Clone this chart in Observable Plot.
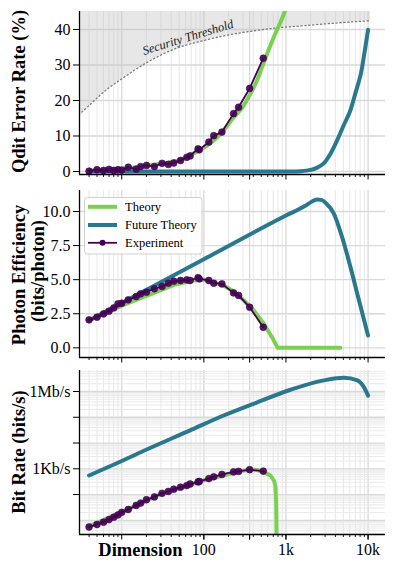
<!DOCTYPE html>
<html><head><meta charset="utf-8">
<script src="https://cdn.jsdelivr.net/npm/d3@7"></script>
<script src="https://cdn.jsdelivr.net/npm/@observablehq/plot@0.6"></script>
<style>
html,body{margin:0;padding:0;background:#fff;}
#wrap{position:relative;width:397px;height:571px;overflow:hidden;font-family:"Liberation Serif",serif;}
#wrap svg, #wrap svg text, #wrap svg tspan{font-family:"Liberation Serif",serif !important;}
</style></head><body><div id="wrap"></div>
<script>
// ---------------- DATA ----------------
// experiment dimensions (shared by the three panels)
const expDims = [4,5,6,7,8,9,10,12,15,17,20,25,31,37,43,52,62,68,85,88,115,132,166,230,265,361,529];
const expQber = [0.1,0.5,0.3,0.6,0.3,0.5,0.4,1.2,0.65,1.4,1.7,1.4,2.3,2.0,2.4,3.1,4.0,4.4,6.4,6.1,8.3,10.1,11.1,16.3,18.1,23.4,31.9];
const expPE   = [2.05,2.25,2.49,2.69,2.93,3.23,3.27,3.52,3.76,3.96,4.08,4.33,4.5,4.74,4.89,4.94,4.99,4.94,5.14,5.06,4.94,4.74,4.69,4.03,3.84,2.98,1.51];
const expBR   = [5.5,6.9,8.5,10.7,13.2,16.2,20.4,26.3,38,46.8,63,81,112,132,162,193,224,257,309,324,417,490,603,759,794,923,813];

// Theory (current)
const thQberDims = [4,6,10,15,20,30,52,85,100,166,230,300,361,450,529,710,966,1100];
const thQber     = [0.3,0.45,0.8,1.2,1.6,2.2,3.3,5.8,6.7,11,15.2,18.3,21.5,26,30.3,37.8,45,49];
const thPEDims = [4,10,23,45,70,100,174,231,307,405,537,677,793,4600];
const thPE     = [2.0,3.1,3.95,4.65,4.92,5.0,4.57,4.13,3.47,2.74,1.76,0.78,0,0];
const thBRDims = [4,10,30,68,100,174,250,361,450,529,650,720,745,760,770,780];
const thBR     = [5.8,20.9,105,240,355,550,760,930,890,740,550,330,195,50,1,0.001];

// Future theory
const fuQberDims = [4,100,1000,1500,2000,2400,2880,3400,4180,5000,6080,7000,8160,9000,10000];
const fuQber     = [0,0,0,0.1,0.45,1.1,2.3,4.6,8.7,12.8,17.2,22,27.5,33.2,39.9];
const fuPEDims = [4,100,1000,1700,2100,2400,2700,3030,3830,4840,6120,7730,10000];
const fuPE     = [2.0,6.5,9.7,10.4,10.75,10.88,10.85,10.65,9.85,8.1,5.9,3.5,0.9];
const fuBRDims = [4,10,14,68,174,446,1140,2900,5100,7400,8900,10000];
const fuBR     = [550,2000,3300,31000,117000,380000,1170000,2700000,3400000,2700000,1480000,690000];

// Security threshold (QBER %)
const thrDims = [3,4,5,7,10,18,45,100,183,400,744,1500,3030,6000,10700];
const thrVals = [16.0,18.6,20.7,23.6,26.1,30.0,34.6,36.9,38.3,39.6,40.4,41.0,41.6,42.1,42.5];
const thrLabel = [{d: 64, v: 37.8, text: "Security Threshold"}];

// ticks & labels
const xTickValues = [100, 361, 1000, 10000];
const xTickLabels = ["100", "361", "1k", "10k"];
const xMajor = [10, 100, 361, 1000, 10000];
const qTicks = [0, 10, 20, 30, 40];
const qLabels = ["0", "10", "20", "30", "40"];
const peTicks = [0, 2.5, 5, 7.5, 10];
const peLabels = ["0.0", "2.5", "5.0", "7.5", "10.0"];
const brTicks = [1e2, 1e3, 1e4, 1e5, 1e6];
const brLabels = ["", "1Kb/s", "", "", "1Mb/s"];
const seriesNames = ["Theory", "Future Theory", "Experiment"];
const colors = {theory: "#7ad151", future: "#2a788e", exp: "#440154"};
const titles = ["Qdit Error Rate (%)", "Photon Efficiency", "(bits/photon)", "Bit Rate (bits/s)", "Dimension"];

// ---------------- CHART ----------------
const W = 397;
const FONT = "Liberation Serif, serif";
const TICKFS = 16;
const xDomain = [3.06, 16300];
const wrap = document.getElementById("wrap");
const rows = (xs, ys) => xs.map((x, i) => ({x, y: ys[i]}));

const xMinor = [];
for (let e = 0; e <= 4; e++) for (let m = 2; m <= 9; m++) { const v = m * 10 ** e; if (v > xDomain[0] && v < xDomain[1]) xMinor.push(v); }

function commonX() {
  return [
    Plot.gridX(xMinor, {stroke: "#e4e4e4", strokeOpacity: 1, strokeWidth: 0.9}),
    Plot.gridX(xMajor, {stroke: "#d9d9d9", strokeOpacity: 1, strokeWidth: 1.3}),
  ];
}
function xTickMarks(withLabels) {
  const m = [
    Plot.axisX(xMinor, {tickSize: 3, tickFormat: () => "", stroke: "black", strokeWidth: 0.9, label: null}),
    Plot.axisX(xMajor, {tickSize: 5.5, tickFormat: () => "", stroke: "black", strokeWidth: 1, label: null}),
  ];
  if (withLabels) {
    m.push(Plot.axisX(xTickValues, {tickSize: 5.5, tickPadding: 4, fontSize: TICKFS, fontFamily: FONT, stroke: "black", strokeWidth: 1,
      tickFormat: d => xTickLabels[xTickValues.indexOf(d)], label: null}));
  }
  return m;
}
function seriesMarks(th, fu, ex, thCurve, fuCurve) {
  return [
    Plot.line(th, {x: "x", y: "y", stroke: colors.theory, strokeWidth: 4, curve: thCurve || "monotone-x", clip: true}),
    Plot.line(fu, {x: "x", y: "y", stroke: colors.future, strokeWidth: 4, curve: fuCurve || "monotone-x", clip: true}),
    Plot.line(ex, {x: "x", y: "y", stroke: colors.exp, strokeWidth: 1.8, clip: true}),
    Plot.dot(ex, {x: "x", y: "y", r: 3.4, fill: colors.exp, fillOpacity: 0.9, stroke: colors.exp, strokeWidth: 0.6, clip: true}),
  ];
}
function yAxis(ticks, labels) {
  return Plot.axisY(ticks, {tickSize: 6, tickPadding: 3, fontSize: TICKFS, fontFamily: FONT, stroke: "black", strokeWidth: 1,
    tickFormat: d => labels[ticks.indexOf(d)], label: null});
}
function panel({top, height, mt, mb, y, marks}) {
  const svg = Plot.plot({
    width: W, height, marginLeft: 79, marginRight: 12, marginTop: mt, marginBottom: mb,
    x: {type: "log", domain: xDomain, label: null},
    y: {...y, label: null},
    style: {fontFamily: FONT, fontSize: TICKFS + "px", color: "black", background: "transparent", overflow: "visible"},
    marks
  });
  svg.style.position = "absolute";
  svg.style.left = "0px";
  svg.style.top = top + "px";
  wrap.appendChild(svg);
}

// Panel 1: QBER
const thr = rows(thrDims, thrVals);
panel({
  top: 0, height: 182, mt: 11, mb: 8,
  y: {domain: [-0.845, 45.07]},
  marks: [
    ...commonX(),
    Plot.gridY(qTicks, {stroke: "#d9d9d9", strokeOpacity: 1, strokeWidth: 1.3}),
    Plot.areaY(thr, {x: "x", y1: "y", y2: 60, fill: "#c4c4c4", fillOpacity: 0.4, curve: "monotone-x", clip: true}),
    Plot.line(thr, {x: "x", y: "y", stroke: "#7a7a7a", strokeWidth: 1.3, strokeDasharray: "1.3,2.6", curve: "monotone-x", clip: true}),
    Plot.text(thrLabel, {x: "d", y: "v", text: "text", rotate: -17, fontStyle: "italic", fontSize: 12.5, fontFamily: FONT, fill: "#222"}),
    ...seriesMarks(rows(thQberDims, thQber), rows(fuQberDims, fuQber), rows(expDims, expQber), "monotone-x", "catmull-rom"),
    Plot.ruleX([xDomain[0]], {stroke: "black", strokeWidth: 1.3}),
    Plot.ruleY([-0.845], {stroke: "black", strokeWidth: 1.3}),
    yAxis(qTicks, qLabels),
    ...xTickMarks(false)
  ]
});

// Panel 2: photon efficiency
panel({
  top: 182, height: 182, mt: 8, mb: 7,
  y: {domain: [-0.71, 11.54]},
  marks: [
    ...commonX(),
    Plot.gridY(peTicks, {stroke: "#d9d9d9", strokeOpacity: 1, strokeWidth: 1.3}),
    ...seriesMarks(rows(thPEDims, thPE), rows(fuPEDims, fuPE), rows(expDims, expPE), "linear"),
    Plot.ruleX([xDomain[0]], {stroke: "black", strokeWidth: 1.3}),
    Plot.ruleY([-0.71], {stroke: "black", strokeWidth: 1.3}),
    yAxis(peTicks, peLabels),
    ...xTickMarks(false)
  ]
});

// Panel 3: bit rate
const yMinor = [];
for (let e = 0; e <= 6; e++) for (let m = 2; m <= 9; m++) { const v = m * 10 ** e; if (v > 10 ** 0.45 && v < 10 ** 6.815) yMinor.push(v); }
const yMajor = [10, 100, 1000, 1e4, 1e5, 1e6];
panel({
  top: 364, height: 207, mt: 6, mb: 37,
  y: {type: "log", domain: [10 ** 0.45, 10 ** 6.815]},
  marks: [
    ...commonX(),
    Plot.gridY(yMinor, {stroke: "#e8e8e8", strokeOpacity: 1, strokeWidth: 0.9}),
    Plot.gridY(yMajor, {stroke: "#d9d9d9", strokeOpacity: 1, strokeWidth: 1.3}),
    ...seriesMarks(rows(thBRDims, thBR), rows(fuBRDims, fuBR), rows(expDims, expBR), "linear"),
    Plot.ruleX([xDomain[0]], {stroke: "black", strokeWidth: 1.3}),
    Plot.ruleY([10 ** 0.45], {stroke: "black", strokeWidth: 1.3}),
    yAxis(brTicks, brLabels),
    ...xTickMarks(true)
  ]
});

// ---------------- overlay: titles + legend ----------------
const ov = d3.select(wrap).append("svg")
  .attr("width", W).attr("height", 571)
  .style("position", "absolute").style("left", "0px").style("top", "0px")
  .style("font-family", FONT);

function vtitle(text, x, y) {
  ov.append("text").attr("transform", `translate(${x},${y}) rotate(-90)`)
    .attr("text-anchor", "middle").attr("font-weight", "bold").attr("font-size", 18.5)
    .attr("fill", "black").text(text);
}
vtitle(titles[0], 24.5, 91.5);
vtitle(titles[1], 24.5, 275);
vtitle(titles[2], 44, 271);
vtitle(titles[3], 24.5, 452);
ov.append("text").attr("x", 98.3).attr("y", 556).attr("font-weight", "bold").attr("font-size", 18.5)
  .attr("fill", "black").text(titles[4]);

// legend
const lg = ov.append("g");
lg.append("rect").attr("x", 84.5).attr("y", 197.5).attr("width", 117.5).attr("height", 56.5).attr("rx", 3)
  .attr("fill", "white").attr("fill-opacity", 0.85).attr("stroke", "#d0d0d0").attr("stroke-width", 1);
const legendItems = [
  {name: seriesNames[0], color: colors.theory, w: 4, dot: false, y: 206.8},
  {name: seriesNames[1], color: colors.future, w: 4, dot: false, y: 225},
  {name: seriesNames[2], color: colors.exp, w: 1.8, dot: true, y: 242.8},
];
for (const it of legendItems) {
  lg.append("line").attr("x1", 88).attr("x2", 117).attr("y1", it.y).attr("y2", it.y)
    .attr("stroke", it.color).attr("stroke-width", it.w);
  if (it.dot) lg.append("circle").attr("cx", 102.5).attr("cy", it.y).attr("r", 3).attr("fill", it.color);
  lg.append("text").attr("x", 125).attr("y", it.y + 4.3).attr("font-size", 12.5).attr("fill", "black").text(it.name);
}
</script>
</body></html>
